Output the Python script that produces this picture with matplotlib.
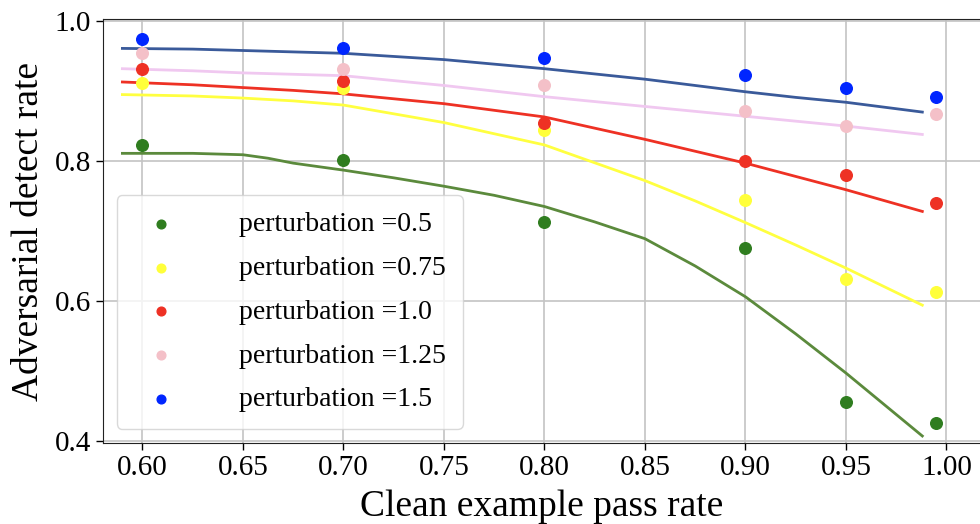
import matplotlib.pyplot as plt

plt.rcParams['font.family'] = ['Liberation Serif', 'DejaVu Serif']

# measured points
pass_rate = [0.6, 0.7, 0.8, 0.9, 0.95, 0.995]
det_05 = [0.823, 0.801, 0.713, 0.676, 0.455, 0.426]
det_075 = [0.912, 0.905, 0.844, 0.745, 0.631, 0.613]
det_10 = [0.932, 0.914, 0.854, 0.800, 0.780, 0.740]
det_125 = [0.955, 0.932, 0.908, 0.872, 0.850, 0.867]
det_15 = [0.975, 0.962, 0.948, 0.923, 0.905, 0.891]

# fitted trend curves
fit_x = [0.59, 0.625, 0.65, 0.675, 0.70, 0.75, 0.80, 0.85, 0.875, 0.90, 0.925, 0.95, 0.988]
fit_075 = [0.895, 0.893, 0.890, 0.886, 0.880, 0.855, 0.823, 0.772, 0.743, 0.712, 0.680, 0.647, 0.594]
fit_10 = [0.913, 0.909, 0.905, 0.901, 0.896, 0.882, 0.863, 0.831, 0.814, 0.797, 0.778, 0.759, 0.728]
fit_125 = [0.932, 0.929, 0.926, 0.924, 0.922, 0.908, 0.892, 0.878, 0.871, 0.864, 0.857, 0.850, 0.838]
fit_15 = [0.961, 0.960, 0.958, 0.956, 0.954, 0.945, 0.932, 0.917, 0.908, 0.899, 0.891, 0.884, 0.870]

# the 0.5 curve bends more, so it was read at more points
fit_x_05 = [0.59, 0.625, 0.65, 0.6625, 0.675, 0.70, 0.725, 0.75, 0.775, 0.80,
            0.825, 0.85, 0.875, 0.90, 0.925, 0.95, 0.988]
fit_05 = [0.811, 0.811, 0.809, 0.804, 0.797, 0.787, 0.776, 0.764, 0.751, 0.735,
          0.713, 0.689, 0.650, 0.606, 0.553, 0.497, 0.407]

labels = ['perturbation =0.5', 'perturbation =0.75', 'perturbation =1.0',
          'perturbation =1.25', 'perturbation =1.5']
dot_colors = ['#2f7d1f', '#ffff3a', '#ee3124', '#f4c0c8', '#0026ff']
line_colors = ['#5b8a3c', '#ffff40', '#ee3124', '#f0c8f0', '#3a5a9a']

fig = plt.figure(figsize=(9.8, 5.24), dpi=100)
ax = fig.add_axes([0.105, 0.1546, 0.895, 0.8091])

dets = [det_05, det_075, det_10, det_125, det_15]
curves = [(fit_x_05, fit_05), (fit_x, fit_075), (fit_x, fit_10), (fit_x, fit_125), (fit_x, fit_15)]
for d, (fx, fy), lab, dc, lc in zip(dets, curves, labels, dot_colors, line_colors):
    ax.scatter(pass_rate, d, s=70, color=dc, label=lab, zorder=3)
    ax.plot(fx, fy, color=lc, lw=2, zorder=2)

ax.set_xlim(0.5803, 1.0167)
ax.set_ylim(0.397, 1.003)
ax.set_xticks([0.60, 0.65, 0.70, 0.75, 0.80, 0.85, 0.90, 0.95, 1.00])
ax.set_xticklabels(['0.60', '0.65', '0.70', '0.75', '0.80', '0.85', '0.90', '0.95', '1.00'])
ax.set_yticks([0.4, 0.6, 0.8, 1.0])
ax.set_yticklabels(['0.4', '0.6', '0.8', '1.0'])
ax.tick_params(labelsize=21, length=5, width=1)
ax.grid(True, color='#c4c4c4', lw=1.2)
ax.set_axisbelow(True)
for s in ax.spines.values():
    s.set_color('#222222')
ax.spines['right'].set_visible(False)

ax.set_xlabel('Clean example pass rate', fontsize=27, labelpad=6)
ax.set_ylabel('Adversarial detect rate', fontsize=27, labelpad=6)

leg = ax.legend(loc='lower left', bbox_to_anchor=(0.016, 0.033), borderaxespad=0,
                fontsize=20, markerscale=0.75, handletextpad=1.8, labelspacing=0.66,
                borderpad=0.6, framealpha=0.8, edgecolor='#d0d0d0')

fig.savefig('out.png', dpi=100)
